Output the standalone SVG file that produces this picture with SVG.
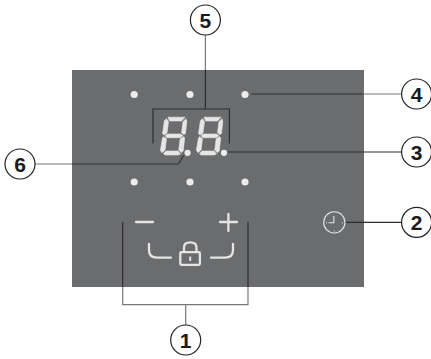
<svg xmlns="http://www.w3.org/2000/svg" width="431" height="359" viewBox="0 0 431 359">
<style>
.dot{fill:#ebebeb}
.lead{fill:none;stroke:#2e2e30;stroke-width:1.2}
.leadg{fill:none;stroke:#77787a;stroke-width:1.2}
.ic{fill:none;stroke:#e4e4e4;stroke-width:2.3;stroke-linecap:round}
.seg{fill:#e6e6e6;stroke:#e6e6e6;stroke-width:.6;stroke-linejoin:round}
.c{fill:#fff;stroke:#222;stroke-width:1.2}
.n{font-family:"Liberation Sans",Arial,sans-serif;font-weight:700;font-size:21px;fill:#1a1a1a;text-anchor:middle}
</style>
<defs>
<g id="digit">
<polygon class="seg" points="8,0.5 25,0.5 21.5,4.3 9.7,4.3"/>
<polygon class="seg" points="6.5,2 8.5,5 7,16.2 4,18.3 2.5,17 4.4,4"/>
<polygon class="seg" points="26,2 26.8,5 25.5,16.5 24,18 21.5,16 23,5"/>
<polygon class="seg" points="5,19 7.5,17.3 20.5,17.3 23,19 20,21 7,21"/>
<polygon class="seg" points="2.5,21 3.8,20 6.5,22 5,33.5 2,36 0.4,33.5"/>
<polygon class="seg" points="23.5,20 24.7,21 23.3,34 21.5,36 18.7,33.5 20.2,22"/>
<polygon class="seg" points="3.5,37 6,34.3 18,34.3 20.5,37.3 18,38.3 5,38.3"/>
</g>
</defs>
<rect width="431" height="359" fill="#fff"/>
<rect id="panel" x="72" y="70" width="292" height="217" fill="#6b6c6e"/>
<g id="connectors">
<path class="leadg" d="M205.4 35V70M35 164H72M363 94H401.5M122.7 287V304.7H248V287M185.7 304.7V325"/>
<path class="lead" d="M205.4 70V109M153 143.5V109H229.4V143.5M72 164H178.4L183.6 155.5M251 94H363M228 152H401.5M345.5 222.4H401.5M122.7 222V287M248 222V287"/>
</g>
<g id="indicators">
<circle class="dot" cx="134.2" cy="94.5" r="3.6"/>
<circle class="dot" cx="190" cy="94.5" r="3.6"/>
<circle class="dot" cx="245" cy="94.5" r="3.6"/>
<circle class="dot" cx="134.2" cy="182" r="3.6"/>
<circle class="dot" cx="190" cy="182" r="3.6"/>
<circle class="dot" cx="245" cy="182" r="3.6"/>
<circle class="dot" cx="187.6" cy="152.8" r="3.1"/>
<circle class="dot" cx="224" cy="152.8" r="3.1"/>
</g>
<g id="display">
<use href="#digit" x="160" y="116.7"/>
<use href="#digit" x="196" y="116.7"/>
</g>
<g id="controls">
<path class="ic" d="M136 222H153M220 222H237M228.4 214V231"/>
<path class="ic" d="M149 244V250Q149 257.6 157 257.6H171M211 257.6H225Q233 257.6 233 250V244"/>
<g id="lock">
<rect x="180.3" y="252.2" width="19.6" height="12.6" rx="1" fill="none" stroke="#e4e4e4" stroke-width="2.3"/>
<path d="M184 252V247.5Q184 242.4 190.2 242.4Q196.5 242.4 196.5 247.5V252" fill="none" stroke="#e4e4e4" stroke-width="2.3"/>
<path d="M190.2 256.5V261" stroke="#e4e4e4" stroke-width="2"/>
</g>
<g id="clock" fill="none" stroke="#e4e4e4" stroke-width="1.1">
<circle cx="334.3" cy="222.4" r="10.6"/>
<path d="M333.8 216V222.8H328.5"/>
<path d="M326 222.8H327M342 222.8H343M334.3 230.5V231.5"/>
</g>
</g>
<g id="n1"><circle class="c" cx="185.7" cy="340" r="15"/><text class="n" x="185.7" y="347.5">1</text></g>
<g id="n2"><circle class="c" cx="416.6" cy="222.4" r="15"/><text class="n" x="416.6" y="230">2</text></g>
<g id="n3"><circle class="c" cx="416.6" cy="152" r="15"/><text class="n" x="416.6" y="159.5">3</text></g>
<g id="n4"><circle class="c" cx="416.6" cy="94" r="15"/><text class="n" x="416.6" y="101.5">4</text></g>
<g id="n5"><circle class="c" cx="205.4" cy="20" r="15"/><text class="n" x="205.4" y="27.5">5</text></g>
<g id="n6"><circle class="c" cx="20" cy="164" r="15"/><text class="n" x="20" y="171.5">6</text></g>
</svg>
